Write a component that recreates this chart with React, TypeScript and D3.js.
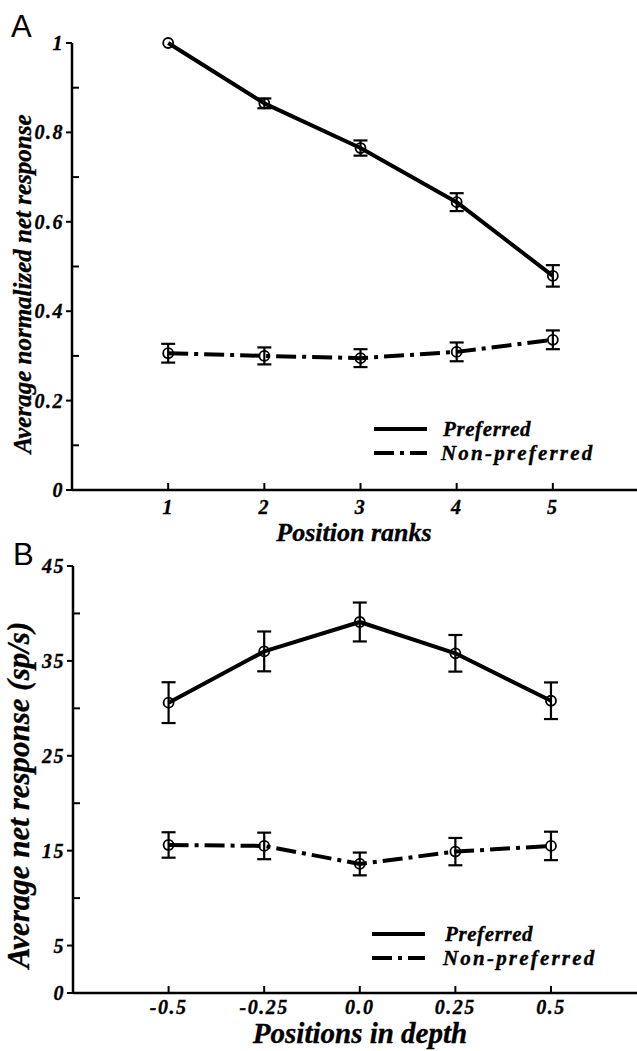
import React from "react";
import * as d3 from "d3";

// Panel A: normalized responses across position ranks
const rankPositions = [1, 2, 3, 4, 5];
const rankTickLabels = ["1", "2", "3", "4", "5"];
const rankPreferred = [1.0, 0.865, 0.765, 0.644, 0.479];
const rankPreferredErr = [0, 0.011, 0.017, 0.02, 0.024];
const rankNonPreferred = [0.306, 0.3, 0.295, 0.309, 0.336];
const rankNonPreferredErr = [0.021, 0.019, 0.02, 0.021, 0.021];
const normMajorTicks = [0, 0.2, 0.4, 0.6, 0.8, 1];
const normMajorLabels = ["0", "0.2", "0.4", "0.6", "0.8", "1"];
const normMinorTicks = [0.1, 0.3, 0.5, 0.7, 0.9];

// Panel B: net responses across positions in depth
const depthPositions = [-0.5, -0.25, 0, 0.25, 0.5];
const depthTickLabels = ["-0.5", "-0.25", "0.0", "0.25", "0.5"];
const depthPreferred = [30.6, 36.0, 39.1, 35.8, 30.8];
const depthPreferredErr = [2.15, 2.1, 2.05, 1.93, 1.93];
const depthNonPreferred = [15.6, 15.5, 13.6, 14.9, 15.5];
const depthNonPreferredErr = [1.34, 1.4, 1.2, 1.44, 1.5];
const rateMajorTicks = [0, 5, 15, 25, 35, 45];
const rateMajorLabels = ["0", "5", "15", "25", "35", "45"];
const rateMinorTicks = [10, 20, 30, 40];

const legendLabels = ["Preferred", "Non-preferred"];

const SERIF = '"Liberation Serif", "Times New Roman", Times, serif';
const SANS = '"Liberation Sans", Arial, Helvetica, sans-serif';
const DASH_DOT = "20,6,4,6";

// heavy bold-italic serif used for every label
const labelStyle = {
  fontFamily: SERIF,
  fontStyle: "italic",
  fontWeight: "bold",
  stroke: "#000",
  strokeWidth: 0.35,
} as const;

type PanelProps = {
  letter: string;
  letterX: number;
  letterY: number;
  x: d3.ScaleLinear<number, number>;
  y: d3.ScaleLinear<number, number>;
  xTicks: number[];
  xTickLabels: string[];
  yMajor: number[];
  yMajorLabels: string[];
  yMinor: number[];
  preferred: number[];
  preferredErr: number[];
  nonPreferred: number[];
  nonPreferredErr: number[];
  xTitle: string;
  xTitleX: number;
  xTitleY: number;
  xTitleSize: number;
  xTickBaseline: number;
  yTitle: string;
  yTitleX: number;
  yTitleY: number;
  yTitleSize: number;
  legendX: number;
  legendY: number;
  legendTextX: number;
};

function Panel(p: PanelProps) {
  const [x0, x1] = p.x.range();
  const yBottom = p.y(0);
  const yTop = p.y(p.y.domain()[1]);
  const line = d3
    .line<number>()
    .x((_, i) => p.x(p.xTicks[i]))
    .y((d) => p.y(d));

  const series = [
    { values: p.preferred, errs: p.preferredErr, dash: undefined as string | undefined },
    { values: p.nonPreferred, errs: p.nonPreferredErr, dash: DASH_DOT },
  ];

  return (
    <g>
      <text x={p.letterX} y={p.letterY} fontFamily={SANS} fontSize={31} fill="#000">
        {p.letter}
      </text>

      {/* axes */}
      <line x1={x0} x2={x1} y1={yBottom} y2={yBottom} stroke="#000" strokeWidth={2.5} />
      <line x1={x0} x2={x0} y1={yBottom} y2={yTop} stroke="#000" strokeWidth={2.5} />

      {p.yMajor.map((v, i) => (
        <g key={"ym" + v}>
          <line x1={x0 - 6} x2={x0} y1={p.y(v)} y2={p.y(v)} stroke="#000" strokeWidth={2} />
          <text
            x={x0 - 8}
            y={p.y(v)}
            dy="0.35em"
            textAnchor="end"
            style={labelStyle}
            fontSize={20}
            letterSpacing={1.5}
          >
            {p.yMajorLabels[i]}
          </text>
        </g>
      ))}
      {p.yMinor.map((v) => (
        <line key={"yn" + v} x1={x0} x2={x0 + 7} y1={p.y(v)} y2={p.y(v)} stroke="#000" strokeWidth={2} />
      ))}
      {p.xTicks.map((v, i) => (
        <g key={"xt" + v}>
          <line x1={p.x(v)} x2={p.x(v)} y1={yBottom} y2={yBottom - 7} stroke="#000" strokeWidth={2} />
          <text
            x={p.x(v)}
            y={p.xTickBaseline}
            textAnchor="middle"
            style={labelStyle}
            fontSize={20}
            letterSpacing={1.5}
          >
            {p.xTickLabels[i]}
          </text>
        </g>
      ))}

      <text x={p.xTitleX} y={p.xTitleY} textAnchor="middle" style={labelStyle} fontSize={p.xTitleSize}>
        {p.xTitle}
      </text>
      <text
        transform={`translate(${p.yTitleX},${p.yTitleY}) rotate(-90)`}
        textAnchor="middle"
        style={labelStyle}
        fontSize={p.yTitleSize}
      >
        {p.yTitle}
      </text>

      {/* data series */}
      {series.map((s, si) => (
        <g key={"s" + si}>
          <path
            d={line(s.values) ?? ""}
            fill="none"
            stroke="#000"
            strokeWidth={4}
            strokeDasharray={s.dash}
            strokeLinejoin="round"
          />
          {s.values.map((v, i) => {
            const cx = p.x(p.xTicks[i]);
            const e = s.errs[i];
            return (
              <g key={i}>
                {e > 0 && (
                  <g stroke="#000" strokeWidth={2.2}>
                    <line x1={cx} x2={cx} y1={p.y(v - e)} y2={p.y(v + e)} />
                    <line x1={cx - 7} x2={cx + 7} y1={p.y(v - e)} y2={p.y(v - e)} />
                    <line x1={cx - 7} x2={cx + 7} y1={p.y(v + e)} y2={p.y(v + e)} />
                  </g>
                )}
                <circle cx={cx} cy={p.y(v)} r={5} fill="none" stroke="#000" strokeWidth={1.8} />
              </g>
            );
          })}
        </g>
      ))}

      {/* legend */}
      {legendLabels.map((lab, i) => {
        const ly = p.legendY + i * 24;
        return (
          <g key={lab}>
            <line
              x1={p.legendX}
              x2={p.legendX + 53}
              y1={ly}
              y2={ly}
              stroke="#000"
              strokeWidth={4}
              strokeDasharray={i === 1 ? DASH_DOT : undefined}
            />
            <text
              x={p.legendTextX + (i === 0 ? 2 : 0)}
              y={ly + 7}
              style={labelStyle}
              fontSize={21}
              letterSpacing={i === 0 ? 0.6 : 2.2}
            >
              {lab}
            </text>
          </g>
        );
      })}
    </g>
  );
}

export default function App() {
  const xA = d3.scaleLinear().domain([0, 5.875]).range([72, 637]);
  const yA = d3.scaleLinear().domain([0, 1]).range([490, 43]);
  const xB = d3.scaleLinear().domain([-0.75, 0.725]).range([73, 637]);
  const yB = d3.scaleLinear().domain([0, 45]).range([993, 566]);

  return (
    <div style={{ position: "absolute", left: 0, top: 0 }}>
      <svg width={637} height={1051} style={{ display: "block", background: "#fff" }}>
        <Panel
          letter="A"
          letterX={11}
          letterY={37}
          x={xA}
          y={yA}
          xTicks={rankPositions}
          xTickLabels={rankTickLabels}
          yMajor={normMajorTicks}
          yMajorLabels={normMajorLabels}
          yMinor={normMinorTicks}
          preferred={rankPreferred}
          preferredErr={rankPreferredErr}
          nonPreferred={rankNonPreferred}
          nonPreferredErr={rankNonPreferredErr}
          xTitle="Position ranks"
          xTitleX={354}
          xTitleY={541}
          xTitleSize={26}
          xTickBaseline={514}
          yTitle="Average normalized net response"
          yTitleX={31}
          yTitleY={284}
          yTitleSize={25}
          legendX={374}
          legendY={429}
          legendTextX={441}
        />
        <Panel
          letter="B"
          letterX={13}
          letterY={565}
          x={xB}
          y={yB}
          xTicks={depthPositions}
          xTickLabels={depthTickLabels}
          yMajor={rateMajorTicks}
          yMajorLabels={rateMajorLabels}
          yMinor={rateMinorTicks}
          preferred={depthPreferred}
          preferredErr={depthPreferredErr}
          nonPreferred={depthNonPreferred}
          nonPreferredErr={depthNonPreferredErr}
          xTitle="Positions in depth"
          xTitleX={360}
          xTitleY={1043}
          xTitleSize={29}
          xTickBaseline={1014}
          yTitle="Average net response (sp/s)"
          yTitleX={29}
          yTitleY={795}
          yTitleSize={31}
          legendX={372}
          legendY={934}
          legendTextX={443}
        />
      </svg>
    </div>
  );
}
